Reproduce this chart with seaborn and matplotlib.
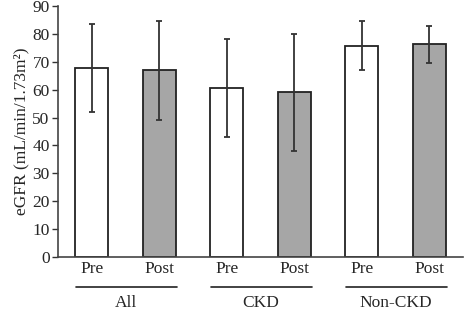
import matplotlib
matplotlib.use("Agg")
import matplotlib.pyplot as plt
import seaborn as sns
import pandas as pd
import numpy as np

groups = ["All", "CKD", "Non-CKD"]
phases = ["Pre", "Post"]
means = [67.7, 67.0, 60.7, 59.1, 75.7, 76.2]
sds = [15.8, 17.8, 17.5, 21.0, 8.8, 6.8]

sns.set_theme(style="white")
plt.rcParams["font.family"] = ["Liberation Serif", "DejaVu Serif"]

rows = []
for gi, g in enumerate(groups):
    for pi, p in enumerate(phases):
        rows.append({"slot": f"{g}-{p}", "Group": g, "Phase": p,
                     "eGFR": means[gi * 2 + pi], "sd": sds[gi * 2 + pi]})
df = pd.DataFrame(rows)

FS = 12.5
fig = plt.figure(figsize=(4.65, 3.11), dpi=100)
ax = fig.add_axes([58 / 465, 54 / 311, 405 / 465, 251 / 311])

sns.barplot(data=df, x="slot", y="eGFR", hue="Phase", dodge=False,
            palette={"Pre": "white", "Post": "#a6a6a6"}, width=0.49,
            edgecolor="#222222", linewidth=1.3, errorbar=None, ax=ax, legend=False)

ax.errorbar(np.arange(len(df)), df["eGFR"], yerr=df["sd"], fmt="none",
            ecolor="#333333", elinewidth=1.3, capsize=2.5, capthick=1.3)

ax.set_xlim(-0.5, 5.5)
ax.set_ylim(0, 90)
ax.set_yticks(range(0, 91, 10))
ax.set_xticks(range(len(df)))
ax.set_xticklabels(df["Phase"])
ax.set_xlabel("")
ax.set_ylabel("eGFR (mL/min/1.73m²)", fontsize=FS, labelpad=2)
ax.tick_params(axis="y", length=4, width=1, color="#333333", labelsize=FS, pad=2, left=True)
ax.tick_params(axis="x", length=0, labelsize=FS, pad=3)
sns.despine(ax=ax)
for s in ["left", "bottom"]:
    ax.spines[s].set_color("#444444")
    ax.spines[s].set_linewidth(1.2)

trans = ax.get_xaxis_transform()
for gi, g in enumerate(groups):
    x0 = gi * 2 - 0.24
    x1 = gi * 2 + 1 + 0.26
    ax.plot([x0, x1], [-30 / 251, -30 / 251], transform=trans, color="#222222",
            lw=1.2, clip_on=False)
    ax.text(gi * 2 + 0.5, -38 / 251, g, transform=trans, ha="center", va="top",
            fontsize=FS)

fig.savefig("out.png", dpi=100)
